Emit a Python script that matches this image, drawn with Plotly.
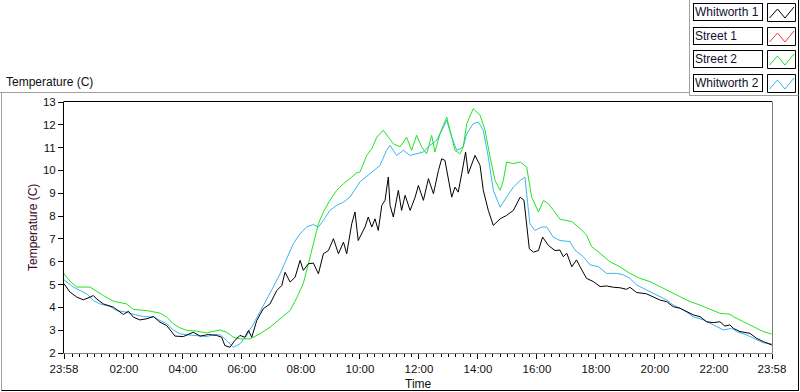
import datetime as dt
import plotly.graph_objects as go

# ---------------- data (hours after midnight; -0.033 = 23:58 previous day) ----------------
black_hours = [-0.033, 0.17, 0.40, 0.62, 0.85, 0.96, 1.07, 1.30, 1.64, 1.98, 2.15, 2.32, 2.54, 2.77,
               3.00, 3.22, 3.45, 3.73, 4.01, 4.35, 4.58, 4.86, 5.14, 5.31, 5.42, 5.59, 5.76, 5.93,
               6.10, 6.22, 6.33, 6.50, 6.72, 6.95, 7.18, 7.35, 7.46, 7.63, 7.80, 7.97, 8.08, 8.25,
               8.42, 8.59, 8.76, 8.93, 9.10, 9.27, 9.44, 9.55, 9.72, 9.83, 9.94, 10.17, 10.28, 10.40,
               10.51, 10.62, 10.74, 10.85, 10.96, 11.02, 11.13, 11.30, 11.41, 11.53, 11.70, 11.87,
               11.98, 12.15, 12.32, 12.49, 12.66, 12.77, 12.88, 13.00, 13.11, 13.22, 13.33, 13.45,
               13.58, 13.67, 13.79, 13.90, 14.07, 14.18, 14.35, 14.52, 14.75, 14.97, 15.20, 15.43,
               15.56, 15.65, 15.74, 15.88, 16.05, 16.19, 16.39, 16.61, 16.78, 16.89, 17.01, 17.18,
               17.34, 17.46, 17.68, 17.91, 18.14, 18.36, 18.59, 18.81, 19.04, 19.15, 19.38, 19.72,
               19.94, 20.17, 20.40, 20.62, 20.85, 21.07, 21.30, 21.53, 21.75, 21.98, 22.20, 22.37,
               22.54, 22.66, 22.88, 23.22, 23.45, 23.67, 23.96]
black_temp = [5.03, 4.67, 4.45, 4.33, 4.45, 4.52, 4.37, 4.15, 4.01, 3.69, 3.83, 3.57, 3.45, 3.50,
              3.60, 3.35, 3.20, 2.74, 2.72, 2.91, 2.74, 2.81, 2.77, 2.69, 2.33, 2.25, 2.55, 2.77,
              2.69, 2.99, 2.69, 3.42, 3.94, 4.15, 4.74, 4.96, 5.54, 5.11, 5.32, 6.06, 5.62, 5.91,
              5.94, 5.47, 6.35, 6.49, 7.01, 6.35, 6.86, 6.35, 7.66, 8.18, 6.93, 7.52, 7.96, 7.52,
              7.88, 7.37, 8.47, 8.69, 9.71, 8.47, 7.96, 9.13, 8.25, 8.91, 8.25, 8.83,
              9.34, 8.69, 9.64, 8.98, 10.00, 10.51, 10.44, 9.56, 8.83, 9.27, 9.05, 9.86,
              10.81, 9.86, 10.30, 10.66, 10.22, 9.13, 8.25, 7.59, 7.88, 8.03, 8.25, 8.83,
              8.69, 7.66, 6.57, 6.42, 6.49, 7.08, 6.71, 6.49, 6.51, 6.22, 6.37, 5.78,
              6.08, 5.78, 5.27, 5.13, 4.91, 4.94, 4.88, 4.86, 4.79, 4.88, 4.65, 4.59,
              4.47, 4.32, 4.25, 4.03, 3.96, 3.81, 3.67, 3.59, 3.37, 3.33, 3.37, 3.18,
              3.23, 3.08, 2.94, 2.86, 2.64, 2.50, 2.35]

green_hours = [-0.033, 0.17, 0.40, 0.85, 1.30, 1.64, 2.09, 2.32, 2.77, 3.22, 3.45, 3.67, 3.90, 4.13,
               4.46, 4.80, 5.26, 5.48, 5.71, 5.93, 6.27, 6.61, 6.95, 7.29, 7.63, 7.85, 7.97, 8.08,
               8.25, 8.42, 8.59, 8.76, 8.98, 9.21, 9.44, 9.66, 9.89, 10.00, 10.23, 10.40, 10.57,
               10.79, 10.96, 11.13, 11.36, 11.58, 11.75, 11.92, 12.09, 12.26, 12.43, 12.54, 12.71,
               12.94, 13.11, 13.22, 13.39, 13.50, 13.62, 13.84, 14.07, 14.24, 14.41, 14.58, 14.75,
               14.86, 14.97, 15.20, 15.43, 15.65, 15.82, 16.05, 16.22, 16.39, 16.56, 16.78, 17.18,
               17.46, 17.68, 17.85, 18.14, 18.47, 18.81, 19.15, 19.49, 19.83, 20.17, 20.51, 20.85,
               21.19, 21.53, 21.87, 22.20, 22.54, 22.66, 23.00, 23.33, 23.67, 23.96]
green_temp = [5.47, 5.15, 4.89, 4.89, 4.52, 4.27, 4.15, 3.91, 3.86, 3.75, 3.57, 3.28, 3.10, 2.99,
              2.96, 2.88, 3.01, 2.91, 2.69, 2.62, 2.62, 2.84, 3.13, 3.50, 3.86, 4.40, 4.74, 5.05,
              5.91, 6.79, 7.66, 8.18, 8.69, 9.13, 9.42, 9.64, 9.90, 9.93, 10.66, 10.95, 11.46,
              11.76, 11.46, 11.17, 11.03, 11.46, 10.88, 11.54, 11.03, 10.73, 11.54, 10.81, 11.61,
              12.34, 11.46, 10.88, 10.73, 11.03, 12.05, 12.71, 12.42, 11.76, 10.59, 9.56, 9.13,
              9.56, 10.37, 10.30, 10.37, 10.15, 8.83, 8.18, 8.69, 8.54, 8.25, 7.86, 7.76,
              7.46, 7.17, 6.66, 6.37, 6.00, 5.78, 5.49, 5.27, 5.13, 4.91, 4.69, 4.47,
              4.25, 4.10, 3.91, 3.74, 3.70, 3.59, 3.37, 3.15, 2.94, 2.83]

blue_hours = [-0.033, 0.28, 0.74, 0.96, 1.19, 1.53, 1.75, 2.09, 2.32, 2.66, 3.00, 3.22, 3.45, 3.67,
              3.90, 4.13, 4.46, 4.80, 5.03, 5.26, 5.48, 5.71, 5.93, 6.16, 6.39, 6.61, 6.84, 7.06,
              7.29, 7.52, 7.74, 7.97, 8.19, 8.42, 8.59, 8.76, 8.98, 9.21, 9.44, 9.66, 9.89, 10.00,
              10.34, 10.68, 10.90, 11.02, 11.24, 11.47, 11.70, 11.92, 12.15, 12.37, 12.60, 12.83,
              12.94, 13.11, 13.28, 13.50, 13.62, 13.84, 14.01, 14.18, 14.35, 14.52, 14.75, 14.97,
              15.20, 15.43, 15.59, 15.76, 15.93, 16.16, 16.33, 16.55, 16.78, 17.12, 17.29, 17.57,
              17.80, 18.08, 18.36, 18.70, 18.93, 19.15, 19.38, 19.72, 20.06, 20.40, 20.62, 20.96,
              21.30, 21.64, 21.98, 22.32, 22.60, 22.77, 23.11, 23.45, 23.67, 23.96]
blue_temp = [5.21, 4.89, 4.59, 4.30, 4.15, 4.04, 3.86, 3.79, 3.69, 3.60, 3.57, 3.42, 3.28, 3.01,
             2.84, 2.80, 2.77, 2.72, 2.80, 2.80, 2.55, 2.25, 2.40, 2.77, 3.28, 3.79, 4.37, 4.89,
             5.47, 6.13, 6.79, 7.23, 7.52, 7.63, 7.52, 7.81, 8.25, 8.47, 8.61, 8.83, 9.27, 9.50,
             9.86, 10.22, 10.88, 11.10, 10.66, 10.88, 10.66, 10.73, 10.81, 11.10, 11.32, 11.90,
             12.20, 11.46, 10.88, 11.03, 11.61, 12.05, 12.12, 11.76, 10.59, 9.13, 8.39, 8.83,
             9.27, 9.56, 9.71, 7.66, 7.37, 7.52, 7.52, 7.08, 6.93, 6.88, 6.51, 6.22,
             5.86, 5.79, 5.49, 5.49, 5.42, 5.27, 4.98, 4.76, 4.54, 4.32, 4.10, 3.89,
             3.59, 3.45, 3.23, 3.01, 3.08, 2.94, 2.79, 2.57, 2.45, 2.40]

legend_names = ["Whitworth 1", "Street 1", "Street 2", "Whitworth 2"]
legend_colors = ["#000000", "#f03c3c", "#1ee61e", "#3cb4f0"]
x_tick_hours = [-2 / 60, 2, 4, 6, 8, 10, 12, 14, 16, 18, 20, 22, 24 - 2 / 60]
x_tick_text = ["23:58", "02:00", "04:00", "06:00", "08:00", "10:00", "12:00",
               "14:00", "16:00", "18:00", "20:00", "22:00", "23:58"]

BASE = dt.datetime(2020, 1, 2)


def to_time(hours):
    return [BASE + dt.timedelta(hours=h) for h in hours]


# ---------------- geometry helpers (pixel -> paper) ----------------
W, H = 800, 392
PL, PR, PT, PB = 64, 772, 102, 353


def px(x):
    return (x - PL) / (PR - PL)


def py(y):
    return (PB - y) / (PB - PT)


FONT = "Liberation Sans"

fig = go.Figure()
for hrs, vals, col in [(blue_hours, blue_temp, legend_colors[3]),
                       (green_hours, green_temp, legend_colors[2]),
                       (black_hours, black_temp, legend_colors[0])]:
    fig.add_trace(go.Scatter(x=to_time(hrs), y=vals, mode="lines",
                             line=dict(color=col, width=1), showlegend=False,
                             hoverinfo="skip"))

shapes = []
line_gray = "#a0a0a0"
# plot frame: top (black) and right (gray)
shapes.append(dict(type="line", xref="paper", yref="paper", x0=px(63.5), x1=px(772),
                   y0=py(101.5), y1=py(101.5), line=dict(color="black", width=1)))
shapes.append(dict(type="line", xref="paper", yref="paper", x0=px(772.5), x1=px(772.5),
                   y0=py(101.5), y1=py(353.5), line=dict(color="#808080", width=1)))
# outer panel
shapes.append(dict(type="line", xref="paper", yref="paper", x0=px(0), x1=px(690),
                   y0=py(92.5), y1=py(92.5), line=dict(color=line_gray, width=1)))
shapes.append(dict(type="line", xref="paper", yref="paper", x0=px(1.5), x1=px(1.5),
                   y0=py(92.5), y1=py(391), line=dict(color=line_gray, width=1)))
shapes.append(dict(type="line", xref="paper", yref="paper", x0=px(1.5), x1=px(798.5),
                   y0=py(390.5), y1=py(390.5), line=dict(color="black", width=1)))
shapes.append(dict(type="line", xref="paper", yref="paper", x0=px(798.5), x1=px(798.5),
                   y0=py(0), y1=py(391), line=dict(color="black", width=1)))
# legend panel
shapes.append(dict(type="line", xref="paper", yref="paper", x0=px(689.5), x1=px(689.5),
                   y0=py(0), y1=py(95.5), line=dict(color=line_gray, width=1)))
shapes.append(dict(type="line", xref="paper", yref="paper", x0=px(689.5), x1=px(798.5),
                   y0=py(95.5), y1=py(95.5), line=dict(color=line_gray, width=1)))

annotations = []
row_tops = [3, 27, 50, 74]
for name, col, top in zip(legend_names, legend_colors, row_tops):
    annotations.append(dict(text=name, xref="paper", yref="paper", x=px(693), y=py(top),
                            xanchor="left", yanchor="top", showarrow=False, align="left",
                            width=66, height=14, borderpad=1, borderwidth=1,
                            bordercolor="black", bgcolor="white",
                            font=dict(family=FONT, size=12, color="#101030")))
    shapes.append(dict(type="rect", xref="paper", yref="paper", x0=px(767.5), x1=px(795.5),
                       y0=py(top + 0.5), y1=py(top + 18.5),
                       line=dict(color="black", width=1), fillcolor="white"))
    pts = [(769.5, top + 15), (777.5, top + 6), (785, top + 15), (794, top + 4)]
    path = "M " + " L ".join(f"{px(a):.5f},{py(b):.5f}" for a, b in pts)
    shapes.append(dict(type="path", xref="paper", yref="paper", path=path,
                       line=dict(color=col, width=1)))

annotations.append(dict(text="Temperature (C)", xref="paper", yref="paper", x=px(4), y=py(82),
                        xanchor="left", yanchor="middle", showarrow=False,
                        font=dict(family=FONT, size=12, color="#101010")))
annotations.append(dict(text="Temperature (C)", xref="paper", yref="paper", x=px(32.5),
                        y=py(227.5), xanchor="center", yanchor="middle", showarrow=False,
                        textangle=-90, font=dict(family=FONT, size=12, color="#3c0a1e")))
annotations.append(dict(text="Time", xref="paper", yref="paper", x=px(418), y=py(384),
                        xanchor="center", yanchor="middle", showarrow=False,
                        font=dict(family=FONT, size=12, color="#101010")))

fig.update_layout(
    width=W, height=H, autosize=False,
    margin=dict(l=PL, r=W - PR, t=PT, b=H - PB, pad=0),
    paper_bgcolor="white", plot_bgcolor="white",
    shapes=shapes, annotations=annotations, showlegend=False,
    font=dict(family=FONT, size=12, color="#101010"),
)
fig.update_xaxes(
    type="date", range=[to_time([-2 / 60])[0], to_time([24 - 2 / 60])[0]],
    tickmode="array", tickvals=to_time(x_tick_hours), ticktext=x_tick_text,
    ticks="outside", ticklen=5, tickcolor="black", tickwidth=1,
    showline=True, linecolor="#808080", linewidth=1, showgrid=False, zeroline=False,
    tickfont=dict(family=FONT, size=11.5, color="#101010"),
    minor=dict(ticks="outside", ticklen=3, tickcolor="black", tickmode="linear",
               tick0=BASE, dtick=15 * 60 * 1000, showgrid=False),
    fixedrange=True,
)
fig.update_yaxes(
    range=[2, 13], tickmode="linear", tick0=2, dtick=1,
    ticks="outside", ticklen=5, tickcolor="black", tickwidth=1,
    showline=True, linecolor="black", linewidth=1, showgrid=False, zeroline=False,
    tickfont=dict(family=FONT, size=11.5, color="#101010"),
    fixedrange=True,
)

fig.write_html("out.html",
               config={"displayModeBar": False, "staticPlot": True},
               post_script="document.body.style.margin='0';document.body.style.overflow='hidden';")
